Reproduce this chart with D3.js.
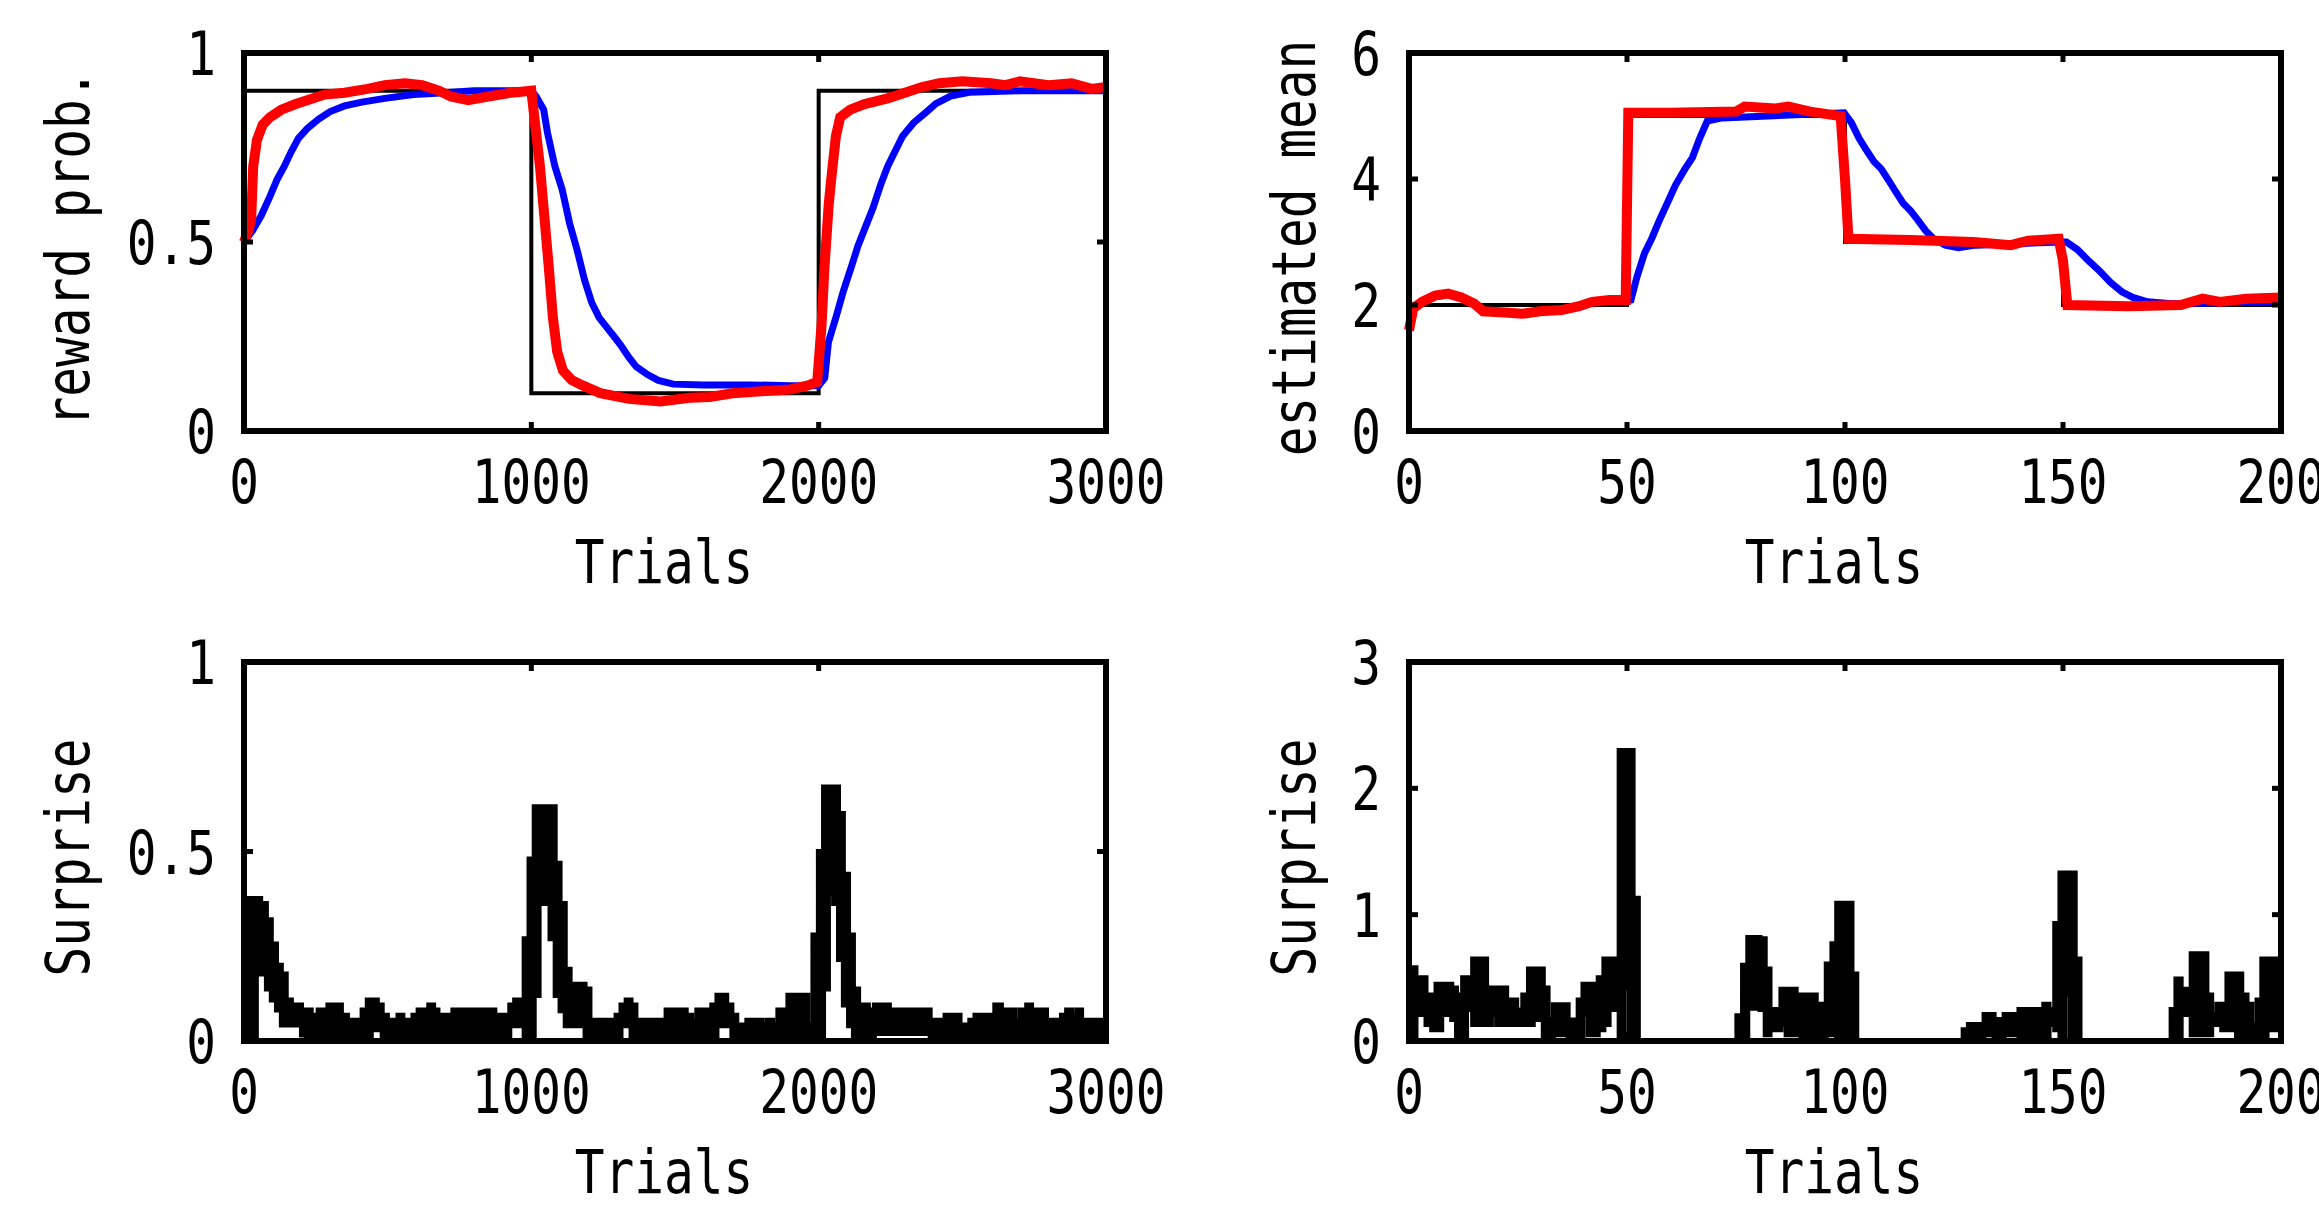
<!DOCTYPE html>
<html>
<head>
<meta charset="utf-8">
<script src="https://cdn.jsdelivr.net/npm/d3@7"></script>
<style>
  html, body { margin: 0; padding: 0; background: #fff; }
  svg text { font-family: "DejaVu Sans Mono", "Liberation Mono", monospace; font-size: 61px; fill: #000; }
</style>
</head>
<body>
<div id="chart"></div>
<script>
// ---------------- data ----------------

// top left: reward probability over 3000 trials
var probTarget = [[0, 0.9], [1000, 0.1], [2000, 0.9], [3000, 0.9]];
var probSlow = [[0,0.50],[30,0.53],[60,0.57],[90,0.62],[115,0.665],[140,0.70],[165,0.74],[190,0.775],[220,0.80],
    [260,0.825],[300,0.845],[350,0.86],[410,0.87],[490,0.88],[590,0.89],[700,0.895],[800,0.9],[1000,0.9],
    [1017,0.885],[1043,0.85],[1056,0.79],[1082,0.70],[1107,0.64],[1133,0.55],[1159,0.48],[1185,0.40],[1210,0.34],
    [1236,0.30],[1262,0.275],[1288,0.25],[1313,0.225],[1339,0.195],[1365,0.17],[1403,0.15],[1442,0.134],[1494,0.124],
    [1600,0.122],[1760,0.122],[1900,0.12],[2000,0.12],[2021,0.14],[2034,0.235],[2060,0.30],[2086,0.37],[2112,0.43],
    [2137,0.49],[2163,0.54],[2189,0.59],[2215,0.65],[2240,0.70],[2266,0.74],[2292,0.78],[2330,0.815],[2369,0.84],
    [2408,0.866],[2459,0.886],[2524,0.896],[2700,0.9],[3000,0.9]];
var probFast = [[0,0.50],[15,0.53],[25,0.56],[32,0.70],[45,0.77],[65,0.81],[90,0.83],[130,0.85],[180,0.865],
    [220,0.875],[280,0.89],[350,0.895],[430,0.905],[490,0.915],[560,0.92],[620,0.915],[680,0.90],[720,0.885],
    [780,0.875],[850,0.885],[930,0.895],[1000,0.9],[1015,0.8],[1030,0.7],[1045,0.57],[1060,0.44],[1075,0.30],
    [1090,0.21],[1110,0.16],[1140,0.135],[1180,0.12],[1240,0.10],[1340,0.085],[1450,0.078],[1550,0.088],[1620,0.09],
    [1700,0.10],[1800,0.105],[1900,0.11],[1960,0.12],[1995,0.13],[2010,0.28],[2020,0.43],[2035,0.6],[2047,0.69],
    [2060,0.78],[2075,0.83],[2110,0.85],[2160,0.865],[2240,0.88],[2300,0.895],[2360,0.91],[2420,0.92],[2500,0.925],
    [2600,0.92],[2650,0.915],[2700,0.925],[2800,0.915],[2880,0.92],[2950,0.905],[3000,0.91]];

// top right: estimated mean over 200 trials
var meanTarget = [[0, 2], [50, 5], [100, 3], [150, 2], [200, 2]];
var meanSlow = [[49,2.05],[50.9,2.08],[52.3,2.45],[54,2.82],[55.7,3.06],[57.4,3.34],[59.6,3.67],[61.1,3.9],
    [63.3,4.16],[65,4.34],[66.7,4.65],[68.4,4.92],[71.8,4.97],[99.8,5.05],[101.5,4.89],[103.2,4.65],[104.9,4.46],
    [106.6,4.28],[108.3,4.16],[110,3.98],[111.7,3.79],[113.4,3.61],[115.1,3.49],[116.8,3.34],[118.5,3.18],
    [120.2,3.06],[123,2.95],[126,2.91],[130,2.95],[150,3.0],[150.8,3.0],[153.3,2.88],[155.9,2.7],[158.4,2.54],
    [160.9,2.36],[163.5,2.21],[166,2.12],[169.4,2.05],[175,2.02],[200,2.05]];
var meanFast = [[0,1.6],[1,1.95],[3,2.05],[6,2.15],[9,2.18],[12,2.12],[15,2.02],[17,1.9],[22,1.88],[26,1.86],
    [30,1.9],[35,1.92],[39,1.98],[42,2.05],[46,2.08],[49.7,2.08],[50.3,5.05],[60,5.05],[75,5.07],[77,5.15],
    [84,5.12],[87,5.15],[92,5.07],[99,5.0],[100,4.0],[100.8,3.05],[115,3.03],[129.5,3.0],[138,2.95],[142,3.02],
    [149,3.05],[150,2.7],[151,2.0],[165,1.98],[177,2.0],[182,2.1],[186,2.05],[192,2.1],[200,2.12]];

// bottom row: surprise, kept as [trial, lower edge, upper edge] of the dense trace
var surpriseLong = [[0,0,0.376],[43,0.177,0.376],[58,0.177,0.363],[78,0.137,0.32],[95,0.108,0.256],[113,0.082,0.20],
    [130,0.042,0.177],[147,0.042,0.108],[165,0.042,0.095],[200,0.016,0.082],[217,0,0.082],[234,0,0.068],[258,0,0.082],
    [292,0,0.095],[339,0,0.068],[360,0,0.055],[379,0.02,0.029],[394,0,0.055],[411,0,0.082],[429,0,0.108],
    [443,0.03,0.108],[464,0.03,0.095],[481,0,0.068],[499,0,0.055],[536,0,0.068],[553,0,0.055],[588,0,0.068],
    [606,0,0.082],[643,0,0.095],[660,0,0.082],[675,0,0.068],[727,0,0.082],[803,0,0.055],[820,0,0.082],[873,0,0.068],
    [925,0.04,0.095],[942,0.04,0.108],[975,0,0.27],[992,0,0.48],[1010,0.12,0.618],[1027,0.363,0.618],[1048,0.405,0.618],
    [1065,0.27,0.618],[1083,0.12,0.469],[1100,0.08,0.363],[1118,0.04,0.189],[1135,0.04,0.137],[1152,0.04,0.15],
    [1187,0,0.137],[1204,0,0.055],[1295,0,0.068],[1312,0.04,0.095],[1330,0.04,0.108],[1347,0,0.095],[1364,0,0.055],
    [1469,0,0.082],[1539,0,0.068],[1558,0,0.055],[1576,0,0.082],[1628,0,0.095],[1646,0.04,0.121],[1680,0.04,0.095],
    [1698,0,0.068],[1715,0,0.042],[1750,0,0.055],[1802,0,0.042],[1820,0,0.055],[1840,0,0.042],[1858,0,0.082],
    [1893,0,0.121],[1962,0,0.042],[1980,0,0.28],[1999,0,0.50],[2017,0.137,0.67],[2034,0.39,0.67],[2052,0.363,0.67],
    [2069,0.215,0.60],[2086,0.095,0.44],[2104,0.04,0.28],[2121,0,0.137],[2139,0,0.095],[2173,0,0.082],
    [2194,0.02,0.095],[2246,0.02,0.082],[2388,0,0.042],[2405,0,0.055],[2440,0,0.068],[2492,0,0.042],[2509,0,0.029],
    [2526,0,0.055],[2544,0,0.068],[2613,0,0.095],[2636,0,0.082],[2683,0,0.055],[2701,0,0.082],[2724,0,0.095],
    [2741,0,0.082],[2793,0,0.055],[2845,0,0.068],[2863,0,0.082],[2880,0,0.068],[2898,0,0.082],[2915,0,0.055],
    [3000,0,0.055]];
var surpriseShort = [[0,0,0.58],[1.6,0.25,0.50],[2.7,0.21,0.50],[3.9,0.13,0.365],[5.2,0.09,0.365],[6.2,0.09,0.45],
    [7.5,0.21,0.45],[9.8,0.17,0.42],[10.9,0,0.365],[12.3,0,0.50],[13.2,0.25,0.50],[14.6,0.13,0.65],[17.8,0.13,0.42],
    [18.9,0.21,0.42],[20.1,0.13,0.42],[22.4,0.13,0.325],[24.7,0.13,0.246],[26.1,0.13,0.365],[27.4,0.13,0.57],
    [28.5,0.17,0.57],[30.8,0,0.42],[31.9,0,0.17],[33.1,0.05,0.286],[36.5,0,0.167],[38.8,0,0.325],[39.9,0.21,0.45],
    [41.1,0.05,0.45],[43.4,0.09,0.50],[44.7,0.13,0.65],[45.9,0.25,0.65],[48.2,0,2.3],[49.3,0.42,2.3],[50.5,0,2.3],
    [51.4,0,1.13],[52.6,0,0],[75.2,0,0.2],[76.5,0,0.6],[77.7,0.26,0.82],[80.5,0.25,0.81],[81.7,0.05,0.57],
    [82.8,0.09,0.25],[85.3,0.13,0.41],[86.5,0.05,0.41],[88.8,0.05,0.29],[89.9,0,0.365],[93.4,0,0.25],[94.5,0,0.29],
    [95.7,0.05,0.61],[97,0.29,0.77],[98.1,0,1.09],[101.6,0,0.53],[102.7,0,0],[127.1,0,0.09],[128.3,0,0.13],
    [131.9,0.05,0.21],[134.2,0,0.17],[136.5,0.05,0.21],[139.9,0,0.25],[144.7,0,0.25],[145.6,0,0.29],[146.8,0.13,0.25],
    [148.1,0.09,0.93],[149.3,0,1.33],[150.4,0.365,1.33],[151.6,0,1.33],[152.8,0,0.65],[153.9,0,0],[174.8,0,0.25],
    [175.9,0,0.49],[177.1,0.25,0.41],[178.2,0.21,0.41],[179.4,0.05,0.69],[183,0.05,0.365],[184.1,0.13,0.21],
    [185.3,0.17,0.29],[186.4,0.09,0.29],[187.6,0.09,0.53],[189.8,0,0.53],[191,0,0.365],[192.2,0,0.29],[193.3,0,0.13],
    [194.5,0,0.325],[195.6,0,0.65],[196.8,0.09,0.65],[200,0.09,0.65]];

// axis ticks
var longTrialTicks = [0, 1000, 2000, 3000];
var shortTrialTicks = [0, 50, 100, 150, 200];
var probTicks = [0, 0.5, 1];
var meanTicks = [0, 2, 4, 6];
var surpriseLongTicks = [0, 0.5, 1];
var surpriseShortTicks = [0, 1, 2, 3];

// ---------------- drawing ----------------

var svg = d3.select("#chart").append("svg")
    .attr("width", 2319)
    .attr("height", 1207)
    .style("background", "#fff");

// the figure's font is a narrow monospace, so squeeze DejaVu Sans Mono sideways
var SQUEEZE = 0.81;

function narrowText(g, str, x, y, anchor, rotate) {
    return g.append("text")
        .attr("transform", "translate(" + x + "," + y + ")" + (rotate ? " rotate(-90)" : "") +
            " scale(" + SQUEEZE + ",1)")
        .attr("text-anchor", anchor)
        .text(str);
}

/**
 * Builds one framed panel with inward ticks and labels, returns its scales.
 */
function makePanel(box, xDomain, yDomain, xTicks, yTicks, yTitle, yTitleX) {
    var g = svg.append("g");
    var x = d3.scaleLinear().domain(xDomain).range([box.x0, box.x1]);
    var y = d3.scaleLinear().domain(yDomain).range([box.y1, box.y0]);

    var data = g.append("g");
    var deco = g.append("g");

    deco.append("rect")
        .attr("x", box.x0).attr("y", box.y0)
        .attr("width", box.x1 - box.x0).attr("height", box.y1 - box.y0)
        .attr("fill", "none").attr("stroke", "#000").attr("stroke-width", 6);

    // inward ticks on all four sides
    xTicks.slice(1, -1).forEach(function (t) {
        deco.append("line").attr("x1", x(t)).attr("x2", x(t)).attr("y1", box.y1).attr("y2", box.y1 - 9)
            .attr("stroke", "#000").attr("stroke-width", 5);
        deco.append("line").attr("x1", x(t)).attr("x2", x(t)).attr("y1", box.y0).attr("y2", box.y0 + 9)
            .attr("stroke", "#000").attr("stroke-width", 5);
    });
    yTicks.slice(1, -1).forEach(function (t) {
        deco.append("line").attr("x1", box.x0).attr("x2", box.x0 + 9).attr("y1", y(t)).attr("y2", y(t))
            .attr("stroke", "#000").attr("stroke-width", 5);
        deco.append("line").attr("x1", box.x1).attr("x2", box.x1 - 9).attr("y1", y(t)).attr("y2", y(t))
            .attr("stroke", "#000").attr("stroke-width", 5);
    });

    xTicks.forEach(function (t) {
        narrowText(deco, String(t), x(t), box.y1 + 72, "middle");
    });
    yTicks.forEach(function (t) {
        narrowText(deco, String(t), box.x0 - 28, y(t) + 22, "end");
    });

    narrowText(deco, "Trials", (box.x0 + box.x1) / 2 - 11, box.y1 + 152, "middle");
    narrowText(deco, yTitle, yTitleX, (box.y0 + box.y1) / 2 + 6, "middle", true);

    return { x: x, y: y, data: data };
}

function drawLine(p, pts, color, width, curve) {
    var line = d3.line()
        .x(function (d) { return p.x(d[0]); })
        .y(function (d) { return p.y(d[1]); })
        .curve(curve || d3.curveLinear);
    p.data.append("path")
        .attr("d", line(pts))
        .attr("fill", "none")
        .attr("stroke", color)
        .attr("stroke-width", width)
        .attr("stroke-linejoin", "miter");
}

function drawBand(p, pts) {
    var area = d3.area()
        .x(function (d) { return p.x(d[0]); })
        .y0(function (d) { return p.y(d[1]); })
        .y1(function (d) { return p.y(d[2]); })
        .curve(d3.curveStepAfter);
    p.data.append("path")
        .attr("d", area(pts))
        .attr("fill", "#000")
        .attr("stroke", "#000")
        .attr("stroke-width", 5)
        .attr("stroke-linejoin", "miter");
}

var tl = makePanel({x0: 244, x1: 1106, y0: 53, y1: 431}, [0, 3000], [0, 1],
    longTrialTicks, probTicks, "reward prob.", 89);
drawLine(tl, probTarget, "#000", 4, d3.curveStepAfter);
drawLine(tl, probSlow, "#0000ff", 7);
drawLine(tl, probFast, "#ff0000", 10);

var tr = makePanel({x0: 1409, x1: 2281, y0: 53, y1: 431}, [0, 200], [0, 6],
    shortTrialTicks, meanTicks, "estimated mean", 1315);
drawLine(tr, meanTarget, "#000", 4, d3.curveStepAfter);
drawLine(tr, meanSlow, "#0000ff", 7);
drawLine(tr, meanFast, "#ff0000", 10);

var bl = makePanel({x0: 244, x1: 1106, y0: 662, y1: 1041}, [0, 3000], [0, 1],
    longTrialTicks, surpriseLongTicks, "Surprise", 89);
drawBand(bl, surpriseLong);

var br = makePanel({x0: 1409, x1: 2281, y0: 662, y1: 1041}, [0, 200], [0, 3],
    shortTrialTicks, surpriseShortTicks, "Surprise", 1315);
drawBand(br, surpriseShort);
</script>
</body>
</html>
